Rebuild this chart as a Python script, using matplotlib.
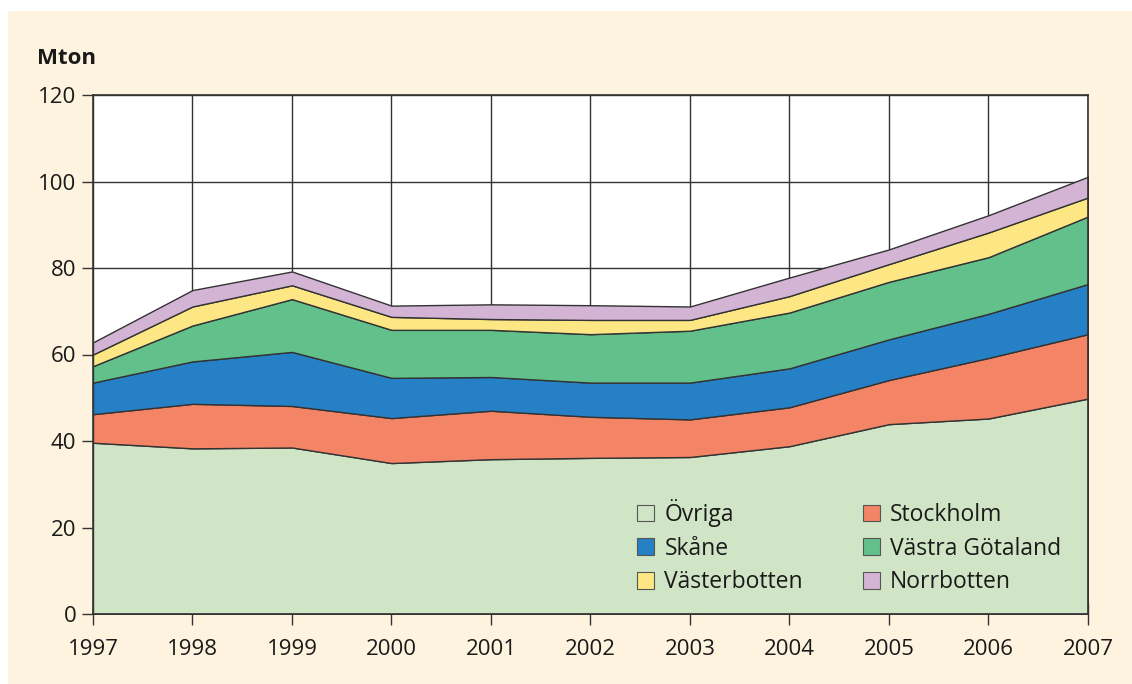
import matplotlib
matplotlib.use("Agg")
import matplotlib.pyplot as plt
from matplotlib.patches import Rectangle, Patch

years = [1997, 1998, 1999, 2000, 2001, 2002, 2003, 2004, 2005, 2006, 2007]
ovriga = [39.6, 38.3, 38.5, 34.9, 35.8, 36.1, 36.3, 38.8, 43.9, 45.2, 49.8]
stockholm = [6.6, 10.3, 9.6, 10.4, 11.2, 9.5, 8.7, 9.0, 10.2, 14.0, 14.9]
skane = [7.3, 9.8, 12.5, 9.3, 7.8, 7.9, 8.5, 9.0, 9.4, 10.2, 11.6]
vastra_gotaland = [3.8, 8.3, 12.2, 11.1, 10.9, 11.2, 12.0, 12.9, 13.3, 13.1, 15.6]
vasterbotten = [2.7, 4.4, 3.2, 3.0, 2.5, 3.3, 2.5, 3.8, 4.1, 5.7, 4.4]
norrbotten = [2.8, 3.8, 3.2, 2.6, 3.4, 3.4, 3.1, 4.3, 3.4, 4.0, 4.8]

labels = ["Övriga", "Stockholm", "Skåne", "Västra Götaland", "Västerbotten", "Norrbotten"]
colors = ["#cfe5c5", "#f48466", "#2680c6", "#62c08b", "#fde784", "#d4b4d5"]
yticks = [0, 20, 40, 60, 80, 100, 120]

plt.rcParams['font.family'] = ['Open Sans', 'DejaVu Sans']

W, H = 1132, 684
fig = plt.figure(figsize=(W / 100, H / 100), dpi=100, facecolor="white")
fig.patches.append(Rectangle((8 / W, 0), 1 - 8 / W, 1 - 11 / H, transform=fig.transFigure,
                             facecolor="#fef3de", edgecolor="none", zorder=-10))

ax = fig.add_axes([93 / W, 1 - 614 / H, (1088 - 93) / W, (614 - 95) / H])
ax.set_facecolor("white")

series = [ovriga, stockholm, skane, vastra_gotaland, vasterbotten, norrbotten]
ax.stackplot(years, *series, colors=colors, edgecolor="#333333", linewidth=1.0, zorder=3)

ax.set_xlim(1997, 2007)
ax.set_ylim(0, 120)
ax.set_xticks(years)
ax.set_yticks(yticks)
ax.grid(True, color="#333333", linewidth=1.0, zorder=1)
ax.set_axisbelow(True)
for s in ax.spines.values():
    s.set_color("#333333")
    s.set_linewidth(1.2)
    s.set_zorder(5)
ax.tick_params(axis="x", direction="inout", length=16, width=1.0, color="#333333",
               labelsize=16, labelcolor="#1a1a1a", pad=10)
ax.tick_params(axis="y", direction="out", length=8, width=1.0, color="#333333",
               labelsize=16, labelcolor="#1a1a1a", pad=4)

fig.text(37 / W, 1 - 58 / H, "Mton", fontsize=16, fontweight="bold", color="#1a1a1a",
         ha="left", va="center")

order = [0, 2, 4, 1, 3, 5]
handles = [Patch(facecolor=colors[i], edgecolor="#555555", linewidth=0.8) for i in order]
leg_labels = [labels[i] for i in order]
leg = ax.legend(handles, leg_labels, ncol=2, frameon=False, fontsize=16.5,
                loc="upper left", bbox_to_anchor=(637 / W, 1 - 499 / H),
                bbox_transform=fig.transFigure, borderpad=0, borderaxespad=0,
                handlelength=0.75, handleheight=0.75, handletextpad=0.45,
                columnspacing=2.6, labelspacing=0.42, labelcolor="#1a1a1a")
leg.set_zorder(6)

fig.savefig("out.png", dpi=100, facecolor=fig.get_facecolor())
